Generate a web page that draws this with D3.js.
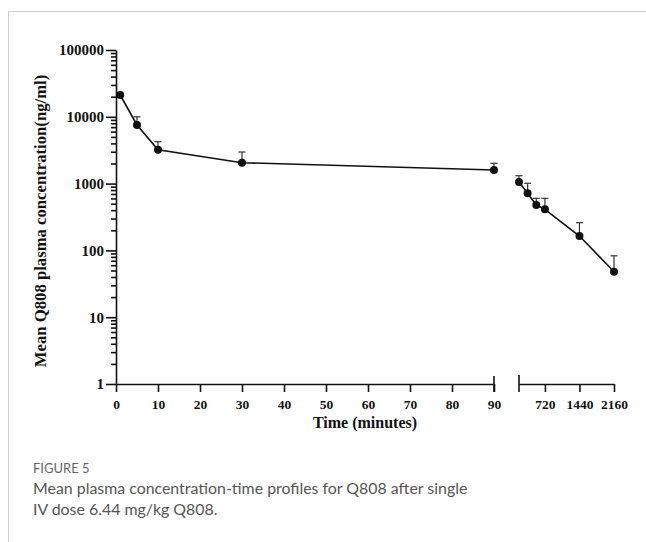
<!DOCTYPE html>
<html>
<head>
<meta charset="utf-8">
<script src="https://cdn.jsdelivr.net/npm/d3@7/dist/d3.min.js"></script>
<style>
  html, body { margin: 0; padding: 0; background: #fff; }
  svg { display: block; }
  .axis text { font-family: "Liberation Serif", "Times New Roman", serif; font-weight: bold; font-size: 13.5px; fill: #111; }
  .axis.yaxis text { font-size: 15px; }
  .axis path, .axis line { stroke: #111; stroke-width: 1.6px; }
</style>
</head>
<body>
<div id="chart"></div>
<script>
// Mean Q808 plasma concentration vs time (minutes), broken x axis
const timesEarly = [1, 5, 10, 30, 90];
const meansEarly = [21200, 7540, 3215, 2055, 1600];
const sdEarly    = [0, 2460, 1025, 915, 414];

const timesLate = [180, 360, 540, 720, 1440, 2160];
const meansLate = [1057, 716, 478, 412, 164, 48];
const sdLate    = [256, 295, 124, 190, 96, 35];

const xTicksEarly = [0, 10, 20, 30, 40, 50, 60, 70, 80, 90];
const xTicksLate = [720, 1440, 2160];
const yTicks = [1, 10, 100, 1000, 10000, 100000];

const width = 646, height = 542;

const svg = d3.select('#chart').append('svg')
    .attr('width', width)
    .attr('height', height);

// page frame lines
svg.append('line').attr('x1', 8.5).attr('x2', 8.5).attr('y1', 11).attr('y2', height)
    .attr('stroke', '#cfcfcf').attr('stroke-width', 1);
svg.append('line').attr('x1', 8).attr('x2', width).attr('y1', 11.5).attr('y2', 11.5)
    .attr('stroke', '#cfcfcf').attr('stroke-width', 1);

// scales
const y = d3.scaleLog().domain([1, 100000]).range([384, 50]);
const x1 = d3.scaleLinear().domain([0, 90]).range([116, 494]);
const x2 = d3.scaleLinear().domain([180, 2160]).range([519, 614]);
const axisY = 384;

// y axis: major + minor ticks
const minorTicks = [];
for (let d = 1; d < 100000; d *= 10) {
    for (let k = 2; k <= 9; k++) minorTicks.push(d * k);
}

svg.append('g')
    .attr('class', 'axis')
    .attr('transform', 'translate(116,0)')
    .call(d3.axisLeft(y).tickValues(minorTicks).tickSize(5).tickFormat('').tickSizeOuter(0))
    .select('.domain').remove();

svg.append('g')
    .attr('class', 'axis yaxis')
    .attr('transform', 'translate(116,0)')
    .call(d3.axisLeft(y).tickValues(yTicks).tickSize(10).tickPadding(2).tickSizeOuter(0)
        .tickFormat(d3.format('d')));

// x axis segment 1
const gx1 = svg.append('g')
    .attr('class', 'axis')
    .attr('transform', 'translate(0,' + axisY + ')')
    .call(d3.axisBottom(x1).tickValues(xTicksEarly).tickSize(8).tickPadding(7).tickSizeOuter(0)
        .tickFormat(d3.format('d')));
gx1.append('line')
    .attr('x1', x1(90)).attr('x2', x1(90)).attr('y1', -8).attr('y2', 8);

// x axis segment 2
const gx2 = svg.append('g')
    .attr('class', 'axis')
    .attr('transform', 'translate(0,' + axisY + ')')
    .call(d3.axisBottom(x2).tickValues(xTicksLate).tickSize(8).tickPadding(7).tickSizeOuter(0)
        .tickFormat(d3.format('d')));
gx2.append('line')
    .attr('x1', x2(180)).attr('x2', x2(180)).attr('y1', -9).attr('y2', 8);

// axis titles
svg.append('text')
    .attr('x', 365).attr('y', 428)
    .attr('text-anchor', 'middle')
    .attr('font-family', '"Liberation Serif", "Times New Roman", serif')
    .attr('font-weight', 'bold').attr('font-size', '16px').attr('fill', '#111')
    .text('Time (minutes)');

svg.append('text')
    .attr('transform', 'translate(46,221) rotate(-90)')
    .attr('text-anchor', 'middle')
    .attr('font-family', '"Liberation Serif", "Times New Roman", serif')
    .attr('font-weight', 'bold').attr('font-size', '16.7px').attr('fill', '#111')
    .text('Mean Q808 plasma concentration(ng/ml)');

// series drawing
function drawSeries(times, means, sds, x) {
    const pts = times.map((t, i) => ({ t: t, m: means[i], sd: sds[i] }));
    const g = svg.append('g');

    // upper error bars
    const eb = pts.filter(d => d.sd > 0);
    g.selectAll('line.err').data(eb).join('line')
        .attr('class', 'err')
        .attr('x1', d => x(d.t)).attr('x2', d => x(d.t))
        .attr('y1', d => y(d.m)).attr('y2', d => y(d.m + d.sd))
        .attr('stroke', '#333').attr('stroke-width', 1.2);
    g.selectAll('line.cap').data(eb).join('line')
        .attr('class', 'cap')
        .attr('x1', d => x(d.t) - 3.5).attr('x2', d => x(d.t) + 3.5)
        .attr('y1', d => y(d.m + d.sd)).attr('y2', d => y(d.m + d.sd))
        .attr('stroke', '#333').attr('stroke-width', 1.2);

    g.append('path')
        .datum(pts)
        .attr('fill', 'none')
        .attr('stroke', '#111')
        .attr('stroke-width', 1.6)
        .attr('d', d3.line().x(d => x(d.t)).y(d => y(d.m)));

    g.selectAll('circle').data(pts).join('circle')
        .attr('cx', d => x(d.t)).attr('cy', d => y(d.m))
        .attr('r', 4)
        .attr('fill', '#111');
}

drawSeries(timesEarly, meansEarly, sdEarly, x1);
drawSeries(timesLate, meansLate, sdLate, x2);

// caption
const cap = svg.append('g')
    .attr('font-family', 'Lato, "Open Sans", sans-serif');
cap.append('text')
    .attr('x', 33).attr('y', 473)
    .attr('font-size', '13px').attr('fill', '#666')
    .text('FIGURE 5');
cap.append('text')
    .attr('x', 33).attr('y', 494)
    .attr('font-size', '15.9px').attr('fill', '#555')
    .text('Mean plasma concentration-time profiles for Q808 after single');
cap.append('text')
    .attr('x', 33).attr('y', 515)
    .attr('font-size', '15.9px').attr('fill', '#555')
    .text('IV dose 6.44 mg/kg Q808.');
</script>
</body>
</html>
